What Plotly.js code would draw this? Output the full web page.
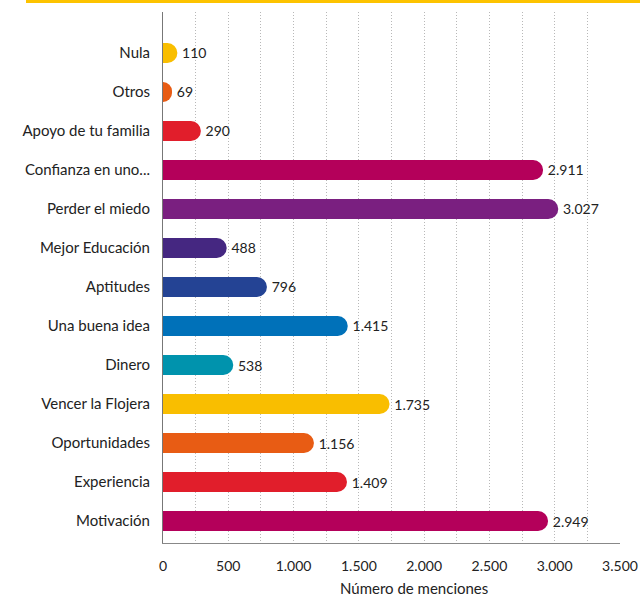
<!DOCTYPE html>
<html>
<head>
<meta charset="utf-8">
<script src="https://cdn.plot.ly/plotly-3.0.1.min.js"></script>
<style>html,body{margin:0;padding:0;background:#fff;} #chart{width:640px;height:597px;}</style>
</head>
<body>
<div id="chart"></div>
<script>
const categories = ["Nula","Otros","Apoyo de tu familia","Confianza en uno...","Perder el miedo","Mejor Educación","Aptitudes","Una buena idea","Dinero","Vencer la Flojera","Oportunidades","Experiencia","Motivación"];
const menciones = [110, 69, 290, 2911, 3027, 488, 796, 1415, 538, 1735, 1156, 1409, 2949];
const barColors = ["#F9BE00","#E85C14","#E11E2B","#B4005A","#7A1F80","#452781","#244394","#0071B9","#0093AD","#F9BE00","#E85C14","#E11E2B","#B4005A"];
const xTickVals = [0,500,1000,1500,2000,2500,3000,3500];
const xTitle = 'Número de menciones';

const L = 163, R = 620, T = 12, B = 543;
const data = [{
  type: 'bar',
  orientation: 'h',
  y: categories,
  x: menciones,
  marker: {color: barColors, cornerradius: 10},
  text: menciones,
  texttemplate: '\u2009%{x:,}',
  textposition: 'outside',
  textfont: {family: 'Lato, sans-serif', size: 14, color: '#222'},
  cliponaxis: false,
  hoverinfo: 'none'
}];
const layout = {
  width: 640, height: 597,
  margin: {l: L, r: 640 - R, t: T, b: 597 - B},
  paper_bgcolor: '#fff', plot_bgcolor: '#fff',
  separators: ',.',
  bargap: 0.487,
  showlegend: false,
  font: {family: 'Lato, sans-serif', color: '#222'},
  xaxis: {
    range: [0, 3500],
    tickvals: xTickVals,
    tickformat: ',d',
    tickfont: {size: 14, color: '#222'},
    ticks: '', ticklabelstandoff: 10,
    showgrid: true, gridcolor: '#b8b8b8', griddash: '1px,2px', gridwidth: 1,
    minor: {dtick: 250, tick0: 0, showgrid: true, gridcolor: '#b8b8b8', griddash: '1px,2px', gridwidth: 1},
    showline: true, linecolor: '#888', linewidth: 1,
    zeroline: false,
    fixedrange: true
  },
  yaxis: {
    range: [12.564, -1.051],
    tickfont: {size: 15, color: '#222'},
    ticks: '', ticklabelstandoff: 9,
    showline: true, linecolor: '#777', linewidth: 1,
    showgrid: false, zeroline: false,
    fixedrange: true
  },
  annotations: [{
    text: xTitle, xref: 'paper', yref: 'paper',
    x: (414 - L) / (R - L), y: -(588 - B) / (B - T),
    xanchor: 'center', yanchor: 'middle', showarrow: false,
    font: {family: 'Lato, sans-serif', size: 15, color: '#222'}
  }],
  shapes: [{
    type: 'rect', xref: 'paper', yref: 'paper',
    x0: (26 - L) / (R - L), x1: (640 - L) / (R - L),
    y0: (B - 3) / (B - T), y1: (B + 1) / (B - T),
    fillcolor: '#FDC300', line: {width: 0}
  }]
};
Plotly.newPlot('chart', data, layout, {staticPlot: true, displayModeBar: false});
</script>
</body>
</html>
